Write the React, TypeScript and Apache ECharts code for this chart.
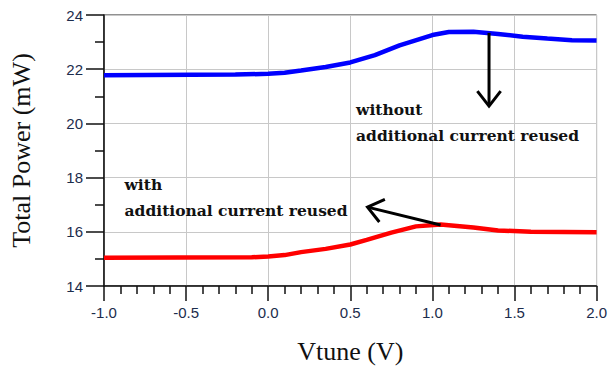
import React, { useEffect, useRef } from "react";
import * as echarts from "echarts";

const blueX = [-1.0, -0.2, 0.0, 0.1, 0.2, 0.35, 0.5, 0.65, 0.8, 1.0, 1.1, 1.25, 1.4, 1.55, 1.7, 1.85, 2.0];
const blueY = [21.78, 21.8, 21.83, 21.87, 21.95, 22.08, 22.25, 22.52, 22.88, 23.26, 23.37, 23.38, 23.3, 23.2, 23.13, 23.07, 23.06];
const redX = [-1.0, -0.1, 0.0, 0.1, 0.2, 0.35, 0.5, 0.6, 0.75, 0.9, 1.05, 1.25, 1.4, 1.6, 2.0];
const redY = [15.04, 15.06, 15.09, 15.14, 15.25, 15.37, 15.53, 15.7, 15.97, 16.2, 16.27, 16.16, 16.05, 16.0, 15.98];

const xTitle = "Vtune (V)";
const yTitle = "Total Power (mW)";
const noteWithout = ["without", "additional current reused"];
const noteWith = ["with", "additional current reused"];
// annotation anchors (top-left of text block) in data coordinates
const noteWithoutPos = [0.535, 20.98];
const noteWithPos = [-0.875, 18.21];
const arrowDown = [[1.345, 23.34], [1.345, 20.64]];
const arrowLeft = [[1.05, 16.25], [0.605, 16.91]];

export default function App() {
  const ref = useRef<HTMLDivElement>(null);
  useEffect(() => {
    const chart = echarts.init(ref.current!, null, { renderer: "svg" });
    const labelColor = "#1c2c4c";
    chart.setOption({
      animation: false,
      backgroundColor: "#ffffff",
      grid: { left: 96, right: 11, top: 15, bottom: 88, show: true, borderColor: "#222", borderWidth: 1, containLabel: false },
      xAxis: {
        type: "value", min: -1, max: 2, interval: 0.5,
        name: xTitle, nameLocation: "middle", nameGap: 52,
        nameTextStyle: { fontFamily: "Liberation Serif", fontSize: 26, color: "#111" },
        axisLine: { show: true, onZero: false, lineStyle: { color: "#111", width: 1.5 } },
        axisTick: { show: true, length: 15, lineStyle: { color: "#111", width: 1.5 } },
        minorTick: { show: true, splitNumber: 5, length: 8, lineStyle: { color: "#111", width: 1.5 } },
        splitLine: { show: true, lineStyle: { color: "#c8c8c8", width: 1 } },
        axisLabel: { fontFamily: "Liberation Sans", fontSize: 15, color: labelColor, margin: 19, formatter: (v: number) => v.toFixed(1) },
      },
      yAxis: {
        type: "value", min: 14, max: 24, interval: 2,
        name: yTitle, nameLocation: "middle", nameGap: 70, nameRotate: 90,
        nameTextStyle: { fontFamily: "Liberation Serif", fontSize: 26, color: "#111" },
        axisLine: { show: true, onZero: false, lineStyle: { color: "#111", width: 1.5 } },
        axisTick: { show: true, length: 18, lineStyle: { color: "#111", width: 1.5 } },
        minorTick: { show: true, splitNumber: 2, length: 9, lineStyle: { color: "#111", width: 1.5 } },
        splitLine: { show: true, lineStyle: { color: "#c8c8c8", width: 1 } },
        axisLabel: { fontFamily: "Liberation Sans", fontSize: 15, color: labelColor, margin: 21 },
      },
      series: [
        { type: "line", data: blueX.map((x, i) => [x, blueY[i]]), showSymbol: false, lineStyle: { color: "#0000ff", width: 4.5 }, z: 3 },
        { type: "line", data: redX.map((x, i) => [x, redY[i]]), showSymbol: false, lineStyle: { color: "#ff0000", width: 4.5 }, z: 3 },
      ],
    });

    const px = (p: number[]) => chart.convertToPixel({ gridIndex: 0 }, p) as number[];
    const textStyle = { fontFamily: "DejaVu Serif", fontWeight: "bold", fontSize: 15.5, fill: "#111" };
    const mkText = (pos: number[], lines: string[]) => {
      const p = px(pos);
      return { type: "text", x: p[0], y: p[1], z: 10, style: { ...textStyle, text: lines.join("\n"), lineHeight: 26, verticalAlign: "top" } };
    };
    const mkArrow = (a: number[][]) => {
      const s = px(a[0]);
      const e = px(a[1]);
      const ang = Math.atan2(e[1] - s[1], e[0] - s[0]);
      const L = 19, w = 0.66;
      const w1 = [e[0] - L * Math.cos(ang - w), e[1] - L * Math.sin(ang - w)];
      const w2 = [e[0] - L * Math.cos(ang + w), e[1] - L * Math.sin(ang + w)];
      const st = { stroke: "#000", lineWidth: 3, fill: "none", lineJoin: "miter" };
      return [
        { type: "line", z: 11, shape: { x1: s[0], y1: s[1], x2: e[0], y2: e[1] }, style: st },
        { type: "polyline", z: 11, shape: { points: [w1, e, w2] }, style: st },
      ];
    };
    chart.setOption({
      graphic: [
        mkText(noteWithoutPos, noteWithout),
        mkText(noteWithPos, noteWith),
        ...mkArrow(arrowDown),
        ...mkArrow(arrowLeft),
      ],
    });
    return () => chart.dispose();
  }, []);
  return <div ref={ref} style={{ width: 610, height: 374, position: "absolute", left: 0, top: 0 }} />;
}
